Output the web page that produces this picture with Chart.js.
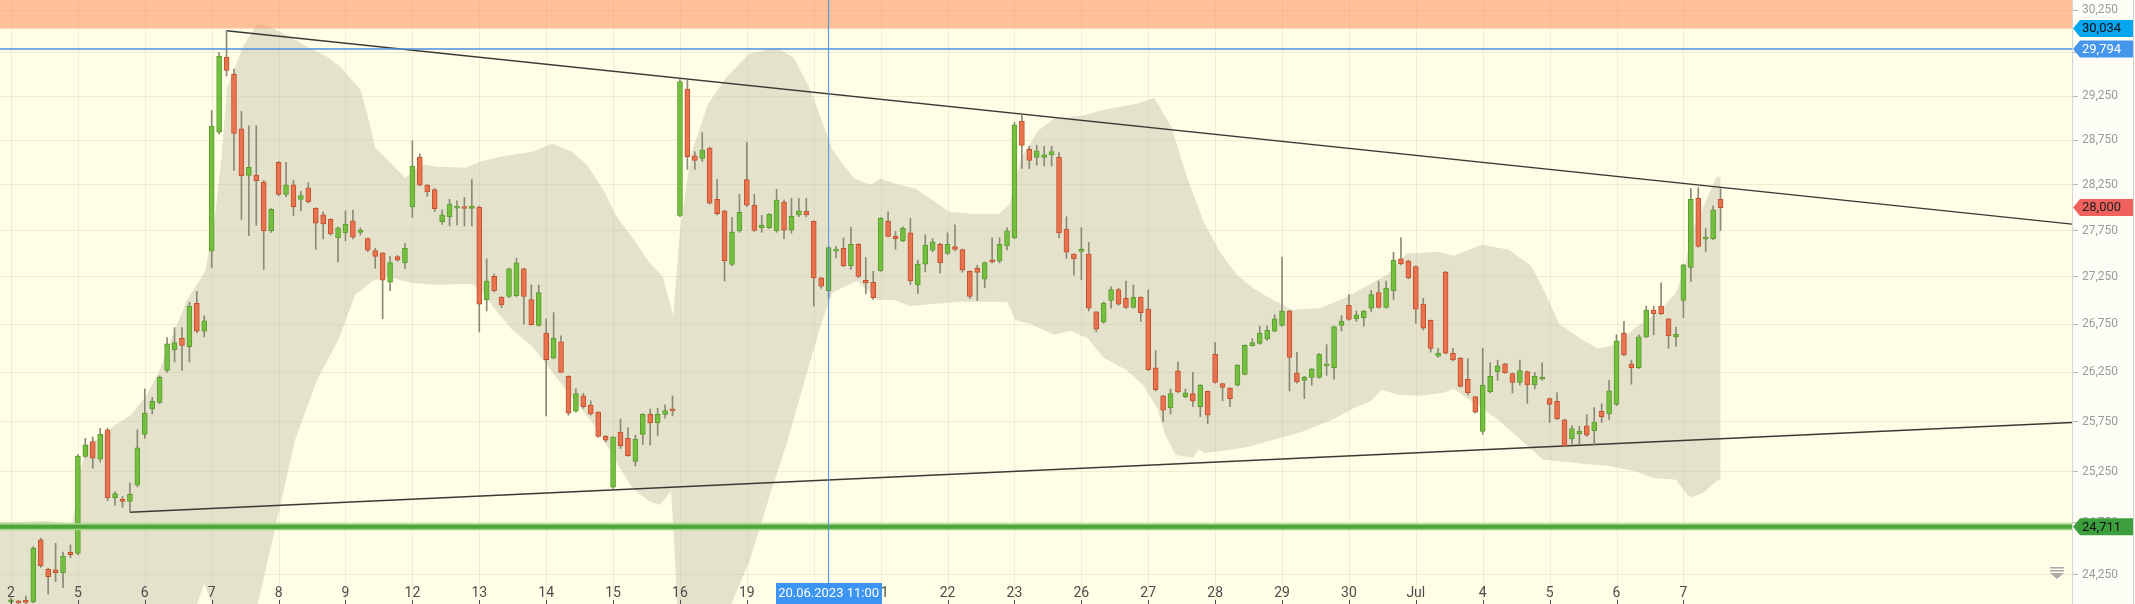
<!DOCTYPE html>
<html><head><meta charset="utf-8">
<script src="https://cdn.jsdelivr.net/npm/chart.js@4.4.0/dist/chart.umd.min.js"></script>
<style>html,body{margin:0;padding:0;background:#fdfdf6;overflow:hidden}#wrap{width:2135px;height:604px;position:relative}</style>
</head><body><div id="wrap"><canvas id="c"></canvas></div>
<script>
const dayLabels = ['2','5','6','7','8','9','12','13','14','15','16','19','20','21','22','23','26','27','28','29','30','Jul','4','5','6','7'];
const slotsPerDay = 9; // hourly candles 09:00-17:00
const open = [
23995,23990,24010,23997,24584,24303,24297,24271,24466,
24454,25401,25548,25374,25667,24995,24980,24958,25116,
25622,25877,25944,26271,26485,26606,26517,26970,26678,
27526,28838,29700,29502,28877,28354,28359,28282,27746,
28500,28146,28252,28091,28218,27993,27922,27871,27671,
27726,27855,27729,27662,27532,27508,27194,27467,27400,
28007,28560,28248,28197,27846,27900,27994,28003,27990,
28007,27010,27256,27035,27043,27051,27338,27010,26739,
26658,26398,26566,26211,25854,26011,25917,25846,25602,
25096,25644,25582,25352,25621,25823,25737,25823,25877,
27914,29329,28574,28544,28660,28091,27964,27384,27746,
28308,28028,27780,27780,27746,28062,27754,27921,27960,
27850,27240,27105,27527,27557,27372,27600,27215,27194,
27318,27850,27687,27637,27725,27166,27388,27537,27600,
27503,27575,27545,27309,27342,27227,27429,27420,27582,
27671,28965,28647,28555,28555,28585,28560,27766,27496,
27525,27496,26880,26771,27002,27116,27023,26928,27035,
26909,26298,26010,25887,26266,26002,26034,25900,26057,
26438,26136,26089,26120,26231,26526,26551,26597,26678,
26739,26889,26247,26168,26200,26200,26318,26298,26739,
26949,26808,26819,26920,27083,26928,27105,27445,27420,
27362,26962,26791,26417,27302,26450,26398,26180,26002,
25652,26053,26259,26338,26239,26148,26259,26121,26180,
25983,25956,25768,25575,25625,25707,25659,25854,25827,
25924,26658,26338,26298,26618,26900,26941,26806,26618,
27002,27351,28103,27655,27662,28091];
const high = [
24030,24010,24050,24520,24600,24315,24552,24468,24536,
25420,25582,25594,25682,25682,25055,25005,25139,25666,
26082,25995,26215,26610,26715,26715,26982,27094,26839,
29087,29751,30008,29560,29074,28911,28911,28300,27990,
28510,28500,28303,28180,28273,28000,27955,27880,27790,
27964,27973,27780,27670,27557,27510,27471,27480,27611,
28742,28595,28255,28210,27977,28091,28075,28113,28308,
28016,27445,27280,27040,27345,27451,27345,27165,27165,
26806,26872,26630,26215,26082,26035,25960,25850,25610,
25600,25776,25690,25613,25830,25877,25885,25920,26010,
29448,29436,28620,28834,28670,28312,27970,27893,28146,
28726,28146,27914,27935,28201,28085,28103,28103,28103,
27855,27245,27575,27580,27670,27785,27610,27460,27310,
27890,27955,27740,27790,27884,27430,27703,27662,27610,
27725,27812,27550,27315,27375,27410,27670,27670,27780,
28950,29039,28680,28692,28680,28680,28610,27900,27500,
27780,27620,26885,26985,27145,27130,27206,27165,27040,
27113,26475,26015,26080,26360,26080,26250,26125,26060,
26560,26140,26095,26330,26535,26600,26730,26730,26850,
27462,26895,26457,26210,26290,26445,26537,26730,26840,
27063,26890,26895,27105,27206,27206,27516,27670,27430,
27370,27023,26795,26498,27310,26498,26405,26390,26005,
26498,26350,26377,26345,26245,26377,26265,26250,26350,
25990,26045,25775,25710,25700,25820,25892,25930,26168,
26640,26780,26377,26640,26940,26940,27187,26810,26720,
27385,28210,28220,27775,28020,28210];
const low = [
23980,23970,23975,23985,24320,24070,24186,24129,24414,
24440,25390,25283,25345,24965,24920,24900,24852,25100,
25582,25827,25930,26250,26358,26270,26358,26660,26618,
27351,28820,29480,28411,27871,27695,27805,27330,27730,
28130,28120,27914,27964,28050,27545,27659,27700,27412,
27637,27660,27700,27520,27342,26807,27105,27420,27338,
27894,28240,28125,27955,27817,27800,27810,27800,27800,
26670,26889,27090,26925,27030,27040,26750,26740,26730,
25807,26390,26250,25815,25845,25885,25815,25592,25545,
25085,25478,25400,25306,25520,25516,25610,25785,25807,
27900,28423,28423,28510,28040,27920,27206,27370,27730,
28010,27740,27730,27770,27730,27660,27722,27900,27900,
26941,27130,27023,27455,27360,27330,27240,27070,27010,
27310,27680,27545,27630,27167,27075,27305,27520,27290,
27490,27530,27300,27020,27000,27135,27400,27400,27540,
27660,28432,28430,28470,28460,28460,27670,27450,27270,
27220,26890,26670,26760,26920,26950,26915,26920,26780,
26270,26060,25749,25827,26040,25990,25900,25800,25730,
26140,25960,25900,26110,26225,26520,26540,26580,26670,
26730,26061,26140,25983,26120,26190,26220,26180,26680,
26790,26780,26730,26880,26920,26920,27010,27380,27230,
26760,26690,26460,26405,26440,26370,26100,26020,25836,
25621,26040,26168,26240,26040,26120,25935,26080,26170,
25740,25770,25495,25525,25525,25600,25517,25740,25770,
25910,26420,26130,26290,26610,26640,26850,26500,26520,
26820,27200,27570,27520,27650,27750];
const close = [
24010,23985,23990,24504,24338,24233,24271,24428,24443,
25405,25517,25383,25621,24995,25033,24958,25028,25486,
25835,25956,26200,26546,26558,26530,26941,26678,26787,
28907,29712,29544,28825,28351,28445,28296,27746,27980,
28146,28252,28007,28133,28062,27830,27821,27712,27780,
27821,27679,27758,27537,27471,27215,27404,27429,27557,
28458,28248,28172,27989,27922,28040,28007,27990,28016,
26962,27207,27105,26953,27338,27400,27043,26747,27083,
26382,26606,26251,25835,26034,25900,25827,25602,25563,
25594,25505,25409,25575,25823,25737,25823,25862,25858,
29417,28565,28522,28639,28048,27934,27425,27732,27948,
28028,27750,27809,27926,28083,27754,27905,27964,27921,
27240,27153,27566,27545,27372,27600,27256,27187,27031,
27884,27687,27662,27775,27207,27388,27590,27628,27400,
27600,27545,27322,27043,27298,27404,27412,27600,27746,
28921,28691,28522,28630,28585,28620,27725,27516,27442,
27549,26920,26698,26970,27116,26962,26928,27035,26872,
26279,26074,25866,26034,26050,26042,25956,26120,25815,
26148,26097,25983,26326,26530,26558,26658,26686,26807,
26889,26406,26152,26200,26287,26438,26338,26726,26780,
26800,26848,26889,27063,26928,27131,27429,27391,27240,
26909,26710,26498,26450,26450,26378,26108,26042,25846,
26121,26211,26318,26247,26148,26270,26121,26211,26200,
25924,25776,25509,25679,25652,25613,25745,25800,26061,
26578,26430,26298,26618,26900,26860,26860,26629,26645,
27380,28091,27579,27671,27977,28000];
// Bollinger band edges: [candle index, price]
const bandUpper = [[-1.5,24758],[1.2,24758],[4.6,24767],[7.3,24748],[8.2,24710],[9.3,25267],[10.4,25516],[12.0,25596],[14.0,25716],[16.0,25807],[18.3,26021],[20.0,26277],[21.8,26640],[23.7,27007],[26.1,27305],[27.4,27867],[28.3,28529],[29.1,29356],[31.2,29819],[33.1,30088],[34.8,30052],[37.1,29958],[39.8,29819],[42.5,29703],[44.3,29587],[47.0,29322],[47.9,29060],[49.0,28663],[50.6,28529],[53.0,28329],[55.4,28473],[57.3,28451],[61.3,28440],[63.1,28507],[65.8,28563],[70.2,28619],[72.8,28709],[75.5,28619],[77.6,28462],[79.9,28163],[81.4,27910],[83.7,27660],[85.8,27412],[87.7,27251],[89.1,26838],[90.0,27747],[91.5,28596],[93.8,29162],[96.3,29472],[99.3,29738],[103.1,29807],[105.3,29691],[107.5,29334],[109.0,28991],[110.5,28641],[112.1,28462],[113.5,28318],[115.6,28252],[117.0,28318],[119.5,28252],[121.7,28207],[123.9,28086],[126.2,27954],[129.2,27932],[132.9,27932],[134.4,28042],[135.9,28551],[138.2,28855],[140.3,28991],[144.1,29025],[147.0,29093],[151.5,29162],[153.8,29230],[156.1,28900],[158.2,28340],[160.5,27834],[162.8,27498],[164.9,27273],[167.2,27124],[169.5,27018],[172.5,26901],[176.2,26922],[179.2,27018],[182.2,27145],[185.1,27273],[187.8,27498],[191.8,27519],[194.1,27476],[197.9,27595],[201.5,27541],[204.5,27369],[206.4,27081],[208.3,26754],[211.2,26598],[213.5,26494],[215.8,26535],[218.7,26723],[221.7,26880],[224.0,27081],[225.1,27326],[226.1,27747],[227.6,27998],[229.5,28340],[230,28340]];
const bandLower = [[-1.5,23700],[24.1,23700],[25.0,23975],[26.0,24164],[27.2,23956],[29.5,23700],[32.7,23920],[33.2,23975],[35.5,24681],[38.2,25566],[41.2,26174],[44.1,26598],[46.3,27060],[48.6,27208],[50.7,27251],[53.8,27187],[56.8,27166],[62.0,27177],[63.5,27081],[65.0,26922],[67.3,26702],[70.2,26514],[73.2,26215],[76.1,25939],[79.1,25656],[81.4,25347],[83.7,25080],[85.8,24962],[87.3,24923],[88.8,25060],[89.2,24594],[89.6,23975],[90.0,23700],[96.6,23700],[96.9,23975],[99.4,24392],[102.1,25021],[104.5,25566],[106.8,26174],[109.0,26754],[110.5,27081],[112.7,27166],[113.8,27208],[115.6,27081],[116.5,27007],[118.7,27007],[121.0,26943],[123.9,26964],[127.7,26986],[131.4,26986],[134.0,26986],[135.1,26796],[137.4,26744],[140.3,26640],[142.6,26681],[144.9,26598],[147.0,26401],[150.0,26277],[152.3,26123],[154.2,25888],[155.3,25616],[156.7,25416],[159.0,25386],[159.8,25476],[160.5,25436],[162.8,25456],[166.4,25496],[170.2,25576],[174.0,25656],[177.7,25767],[180.7,25888],[183.0,25960],[184.4,26072],[186.6,26021],[189.6,26011],[192.7,26041],[194.1,26082],[195.6,26000],[197.9,25888],[200.1,25767],[203.0,25576],[206.1,25367],[209.1,25347],[212.0,25327],[215.0,25307],[218.7,25248],[221.0,25188],[224.0,25169],[225.5,25021],[226.1,25001],[227.6,25040],[229.7,25169],[230,25169]];
const yTicks = [24250,24750,25250,25750,26250,26750,27250,27750,28250,28750,29250,29750,30250];
const resistanceZone = 30034;
const blueLevel = 29794;
const supportLevel = 24711;
const lastPrice = 28000;
const upperTrend = [[29,30008],[277.28,27820]];
const lowerTrend = [[16,24852],[277.28,25740]];
const crosshairIndex = 110;
const crosshairLabel = '20.06.2023 11:00';

const X_MIN = -1.48, X_MAX = 277.28, Y_MIN = 23975, Y_MAX = 30371;
const fmt = v => Number(v).toLocaleString('en-US');
const pts = arr => arr.map(([x, y]) => ({x, y}));
const idx = open.map((_, i) => i);
const isUp = i => close[i] >= open[i];
const GRID = 'rgba(200,190,150,0.25)';

const deco = {
  id: 'deco',
  beforeDraw(chart) {
    const {ctx, chartArea: a} = chart;
    ctx.save();
    ctx.fillStyle = '#fdfdf6'; ctx.fillRect(0, 0, chart.width, chart.height);
    ctx.fillStyle = '#fffde6'; ctx.fillRect(a.left, a.top, a.right - a.left, a.bottom - a.top);
    ctx.restore();
  },
  beforeDatasetsDraw(chart) {
    const {ctx, chartArea: a, scales: {x}} = chart;
    ctx.save(); ctx.strokeStyle = GRID; ctx.lineWidth = 1;
    dayLabels.forEach((_, d) => {
      const px = Math.round(x.getPixelForValue(d * slotsPerDay)) + 0.5;
      ctx.beginPath(); ctx.moveTo(px, a.top); ctx.lineTo(px, a.bottom); ctx.stroke();
    });
    ctx.restore();
  },
  afterDraw(chart) {
    const {ctx, chartArea: a, scales: {x, y}} = chart;
    ctx.save();
    ctx.font = '14px Roboto'; ctx.textAlign = 'center'; ctx.textBaseline = 'middle';
    dayLabels.forEach((lab, d) => {
      const px = x.getPixelForValue(d * slotsPerDay);
      ctx.fillStyle = '#4d4d4d';
      ctx.fillText(lab, px, a.bottom - 11);
      ctx.fillRect(Math.round(px), a.bottom - 4, 1, 4);
    });
    const cx = x.getPixelForValue(crosshairIndex);
    ctx.font = '13px Roboto';
    const bw = 106;
    ctx.fillStyle = '#3d95f3';
    ctx.fillRect(Math.round(cx - bw / 2), a.bottom - 21, bw, 21);
    ctx.fillStyle = '#ffffff';
    ctx.fillText(crosshairLabel, cx, a.bottom - 10);
    // price boxes on axis
    const boxes = [[resistanceZone, '#04a6ef', '#111'], [blueLevel, '#4697ec', '#fff'], [lastPrice, '#f0605c', '#222'], [supportLevel, '#3c9e3c', '#111']];
    boxes.forEach(([v, bg, fg]) => {
      const py = y.getPixelForValue(v);
      const L = a.right + 1, R = chart.width - 2, h = 8.5;
      ctx.beginPath();
      ctx.moveTo(L, py); ctx.lineTo(L + 7, py - h); ctx.lineTo(R, py - h); ctx.lineTo(R, py + h); ctx.lineTo(L + 7, py + h); ctx.closePath();
      ctx.fillStyle = bg; ctx.fill();
      ctx.fillStyle = fg; ctx.font = '13px Roboto'; ctx.textAlign = 'left';
      ctx.fillText(fmt(v), a.right + 10, py + 0.5);
    });
    // small icon
    const ix = a.right - 22, iy = a.bottom - 37;
    ctx.fillStyle = '#aaaaaa';
    ctx.fillRect(ix, iy, 14, 1.5); ctx.fillRect(ix, iy + 3, 14, 1.5);
    ctx.beginPath(); ctx.moveTo(ix, iy + 6); ctx.lineTo(ix + 14, iy + 6); ctx.lineTo(ix + 7, iy + 12); ctx.closePath(); ctx.fill();
    // right window edge
    ctx.fillStyle = '#d0d0d0'; ctx.fillRect(chart.width - 2, 0, 1, chart.height);
    ctx.restore();
  }
};

const hLine = v => [{x: X_MIN, y: v}, {x: X_MAX, y: v}];

new Chart(document.getElementById('c'), {
  type: 'bar',
  plugins: [deco],
  data: {
    datasets: [
      {type: 'line', data: pts(bandUpper), fill: '+1', backgroundColor: 'rgba(190,188,168,0.42)', borderColor: 'transparent', borderWidth: 0, pointRadius: 0, tension: 0, order: 20},
      {type: 'line', data: pts(bandLower), fill: false, borderColor: 'transparent', borderWidth: 0, pointRadius: 0, tension: 0, order: 19},
      {type: 'line', data: hLine(resistanceZone), fill: 'end', backgroundColor: 'rgba(255,140,90,0.55)', borderColor: 'transparent', borderWidth: 0, pointRadius: 0, order: 18},
      {type: 'line', data: pts(upperTrend), borderColor: '#3a3a34', borderWidth: 1.4, pointRadius: 0, fill: false, order: 10},
      {type: 'line', data: pts(lowerTrend), borderColor: '#3a3a34', borderWidth: 1.4, pointRadius: 0, fill: false, order: 10},
      {type: 'bar', data: idx.map(i => ({x: i, y: [low[i], high[i]]})), backgroundColor: '#8a8a78', borderWidth: 0, barThickness: 1, grouped: false, order: 6},
      {type: 'bar', data: idx.map(i => ({x: i, y: [open[i], close[i]]})),
        backgroundColor: c => isUp(c.dataIndex) ? '#74bf3f' : '#e8734f',
        borderColor: c => isUp(c.dataIndex) ? '#5a9d2e' : '#c5502f',
        borderWidth: 1, borderSkipped: false, barThickness: 5, minBarLength: 2, grouped: false, order: 5},
      {type: 'line', data: hLine(supportLevel), borderColor: '#a3d486', borderWidth: 7, pointRadius: 0, fill: false, order: 3},
      {type: 'line', data: hLine(supportLevel), borderColor: '#4ea63a', borderWidth: 4, pointRadius: 0, fill: false, order: 2},
      {type: 'line', data: hLine(blueLevel), borderColor: '#4a90e2', borderWidth: 1.5, pointRadius: 0, fill: false, order: 2},
      {type: 'line', data: [{x: crosshairIndex, y: Y_MIN}, {x: crosshairIndex, y: Y_MAX}], borderColor: '#4a90e2', borderWidth: 1, pointRadius: 0, fill: false, order: 1}
    ]
  },
  options: {
    responsive: true, maintainAspectRatio: false, animation: false, devicePixelRatio: 1,
    layout: {padding: 0},
    plugins: {legend: {display: false}, tooltip: {enabled: false}},
    scales: {
      x: {type: 'linear', min: X_MIN, max: X_MAX, offset: false, display: false, grid: {display: false}},
      y: {type: 'logarithmic', position: 'right', min: Y_MIN, max: Y_MAX, bounds: 'data',
        afterBuildTicks: s => { s.ticks = yTicks.map(v => ({value: v})); },
        afterFit: s => { s.width = 63; s.paddingTop = 0; s.paddingBottom = 0; },
        ticks: {callback: v => fmt(v), color: '#9b9b9b', font: {size: 12, family: 'Roboto'}, padding: 4, autoSkip: false},
        grid: {color: GRID, tickColor: '#b4b4b4', tickLength: 6, drawTicks: true},
        border: {display: true, color: '#d4d4d4'}
      }
    }
  }
});
</script>
</body></html>
